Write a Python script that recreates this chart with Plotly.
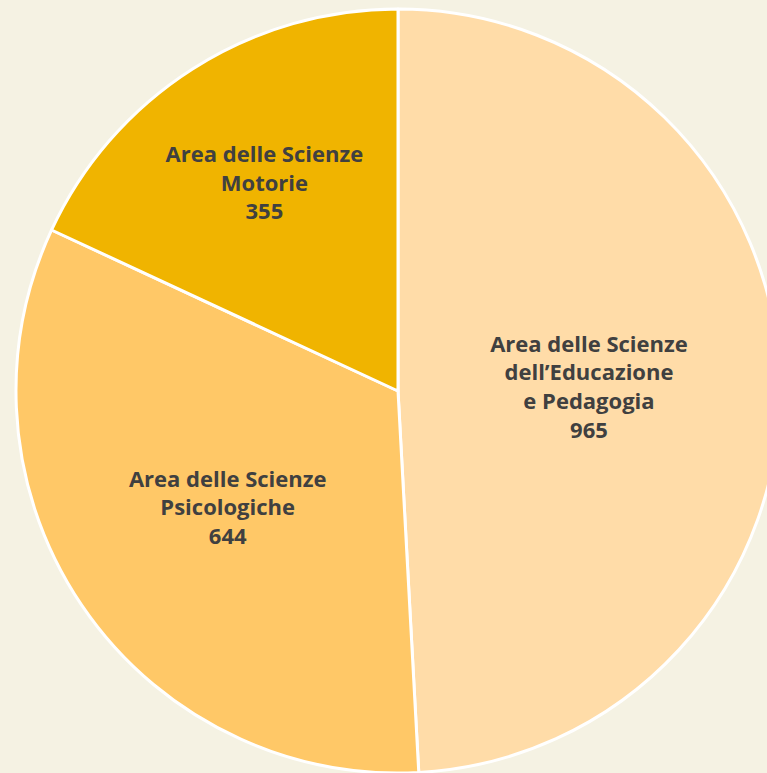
import plotly.graph_objects as go

labels = ["Area delle Scienze<br>dell’Educazione<br>e Pedagogia",
          "Area delle Scienze<br>Psicologiche",
          "Area delle Scienze<br>Motorie"]
values = [965, 644, 355]
colors = ["#FFDCA8", "#FFC867", "#F0B400"]

fig = go.Figure(go.Pie(
    labels=labels,
    values=values,
    sort=False,
    direction="clockwise",
    rotation=0,
    marker=dict(colors=colors, line=dict(color="#FFFFFF", width=3)),
    texttemplate="<b>%{label}<br>%{value}</b>",
    textposition="inside",
    insidetextorientation="horizontal",
    textfont=dict(family="Open Sans", size=22, color="#404040"),
    hoverinfo="label+value",
    showlegend=False,
))

fig.update_layout(
    width=796, height=773,
    margin=dict(l=16, r=16, t=9, b=0, autoexpand=False),
    paper_bgcolor="#F5F2E3",
    uniformtext=dict(minsize=22, mode="show"),
)

fig.write_html("out.html", config={"displayModeBar": False},
               post_script="document.body.style.margin='0';document.body.style.overflow='hidden';")
